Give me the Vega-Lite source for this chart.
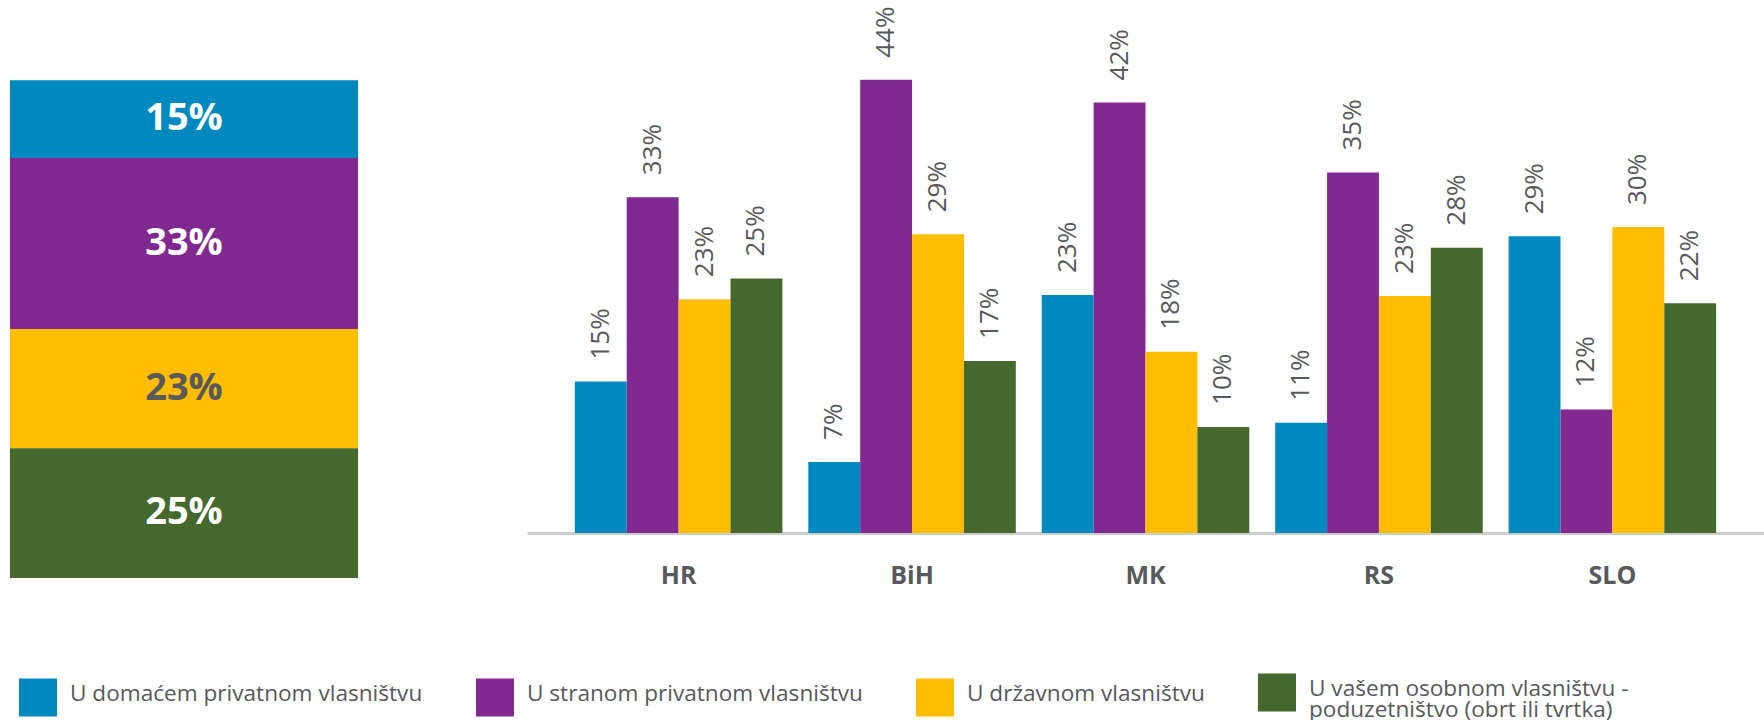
{
  "$schema": "https://vega.github.io/schema/vega-lite/v6.json",
  "background": "#ffffff",
  "padding": {"left": 10, "top": 6, "right": 0, "bottom": 0},
  "bounds": "flush",
  "spacing": 169,
  "config": {"view": {"stroke": null}, "font": "Open Sans"},
  "datasets": {
    "block": [
      {"country": "HR", "category": "U domaćem privatnom vlasništvu", "rank": 1, "share": 0.15},
      {"country": "HR", "category": "U stranom privatnom vlasništvu", "rank": 2, "share": 0.33},
      {"country": "HR", "category": "U državnom vlasništvu", "rank": 3, "share": 0.23},
      {"country": "HR", "category": "U vašem osobnom vlasništvu - poduzetništvo (obrt ili tvrtka)", "rank": 4, "share": 0.25}
    ],
    "ownership": [
      {"country": "HR", "category": "U domaćem privatnom vlasništvu", "value": 0.147},
      {"country": "HR", "category": "U stranom privatnom vlasništvu", "value": 0.326},
      {"country": "HR", "category": "U državnom vlasništvu", "value": 0.227},
      {"country": "HR", "category": "U vašem osobnom vlasništvu - poduzetništvo (obrt ili tvrtka)", "value": 0.247},
      {"country": "BiH", "category": "U domaćem privatnom vlasništvu", "value": 0.069},
      {"country": "BiH", "category": "U stranom privatnom vlasništvu", "value": 0.44},
      {"country": "BiH", "category": "U državnom vlasništvu", "value": 0.29},
      {"country": "BiH", "category": "U vašem osobnom vlasništvu - poduzetništvo (obrt ili tvrtka)", "value": 0.167},
      {"country": "MK", "category": "U domaćem privatnom vlasništvu", "value": 0.231},
      {"country": "MK", "category": "U stranom privatnom vlasništvu", "value": 0.418},
      {"country": "MK", "category": "U državnom vlasništvu", "value": 0.176},
      {"country": "MK", "category": "U vašem osobnom vlasništvu - poduzetništvo (obrt ili tvrtka)", "value": 0.103},
      {"country": "RS", "category": "U domaćem privatnom vlasništvu", "value": 0.107},
      {"country": "RS", "category": "U stranom privatnom vlasništvu", "value": 0.35},
      {"country": "RS", "category": "U državnom vlasništvu", "value": 0.23},
      {"country": "RS", "category": "U vašem osobnom vlasništvu - poduzetništvo (obrt ili tvrtka)", "value": 0.277},
      {"country": "SLO", "category": "U domaćem privatnom vlasništvu", "value": 0.288},
      {"country": "SLO", "category": "U stranom privatnom vlasništvu", "value": 0.12},
      {"country": "SLO", "category": "U državnom vlasništvu", "value": 0.297},
      {"country": "SLO", "category": "U vašem osobnom vlasništvu - poduzetništvo (obrt ili tvrtka)", "value": 0.223}
    ]
  },
  "resolve": {"scale": {"color": "independent", "x": "independent", "y": "independent"}},
  "hconcat": [
    {
      "width": 348,
      "height": 560,
      "data": {"name": "block"},
      "transform": [
        {"stack": "share", "groupby": ["country"], "sort": [{"field": "rank", "order": "descending"}], "as": ["v0", "v1"]}
      ],
      "layer": [
        {
          "mark": {"type": "bar"},
          "encoding": {
            "x": {"field": "country", "type": "nominal", "scale": {"paddingInner": 0, "paddingOuter": 0}, "axis": null},
            "y": {"field": "v0", "type": "quantitative", "scale": {"domain": [0, 1.08]}, "axis": null},
            "y2": {"field": "v1"},
            "color": {
              "field": "category", "type": "nominal",
              "scale": {
                "domain": ["U domaćem privatnom vlasništvu", "U stranom privatnom vlasništvu", "U državnom vlasništvu", "U vašem osobnom vlasništvu - poduzetništvo (obrt ili tvrtka)"],
                "range": ["#0089bf", "#812990", "#febd00", "#45682c"]
              },
              "legend": null
            }
          }
        },
        {
          "transform": [{"fold": ["v0", "v1"], "as": ["edge", "pos"]}],
          "mark": {"type": "text", "fontSize": 38, "fontWeight": "bold", "font": "Open Sans", "baseline": "middle", "align": "center"},
          "encoding": {
            "x": {"field": "country", "type": "nominal"},
            "y": {"aggregate": "mean", "field": "pos", "type": "quantitative", "scale": {"domain": [0, 1.08]}},
            "text": {"field": "share", "type": "quantitative", "format": ".0%"},
            "detail": {"field": "category"},
            "color": {"condition": {"test": "datum.category === 'U državnom vlasništvu'", "value": "#58595b"}, "value": "#ffffff"}
          }
        }
      ]
    },
    {
      "width": 1237,
      "height": 515,
      "data": {"name": "ownership"},
      "encoding": {
        "x": {
          "field": "country", "type": "nominal", "sort": ["HR", "BiH", "MK", "RS", "SLO"],
          "scale": {"paddingInner": 0.111, "paddingOuter": 0.205},
          "axis": {"title": null, "labelAngle": 0, "ticks": false, "tickSize": 0, "grid": false, "domainColor": "#cccccc", "domainWidth": 3, "labelFont": "Open Sans", "labelFontSize": 25, "labelFontWeight": "bold", "labelColor": "#58595b", "labelPadding": 30}
        },
        "xOffset": {
          "field": "category", "type": "nominal",
          "sort": ["U domaćem privatnom vlasništvu", "U stranom privatnom vlasništvu", "U državnom vlasništvu", "U vašem osobnom vlasništvu - poduzetništvo (obrt ili tvrtka)"],
          "scale": {"paddingInner": 0, "paddingOuter": 0}
        },
        "y": {"field": "value", "type": "quantitative", "scale": {"domain": [0, 0.5]}, "axis": null}
      },
      "layer": [
        {
          "mark": {"type": "bar"},
          "encoding": {
            "color": {
              "field": "category", "type": "nominal",
              "scale": {
                "domain": ["U domaćem privatnom vlasništvu", "U stranom privatnom vlasništvu", "U državnom vlasništvu", "U vašem osobnom vlasništvu - poduzetništvo (obrt ili tvrtka)"],
                "range": ["#0089bf", "#812990", "#febd00", "#45682c"]
              },
              "legend": {
                "title": null, "orient": "none", "legendX": -508, "legendY": 655, "direction": "horizontal", "columns": 4,
                "symbolType": "square", "symbolSize": 1444, "symbolStrokeWidth": 0, "symbolOpacity": 1,
                "labelFont": "Open Sans", "labelFontSize": 22.6, "labelColor": "#58595b", "labelOffset": 13, "labelLimit": 600,
                "columnPadding": 53,
                "labelExpr": "datum.label === 'U vašem osobnom vlasništvu - poduzetništvo (obrt ili tvrtka)' ? ['U vašem osobnom vlasništvu -', 'poduzetništvo (obrt ili tvrtka)'] : datum.label",
                "encode": {"labels": {"update": {"lineHeight": {"value": 21}, "dy": {"value": -3.5}}}}
              }
            }
          }
        },
        {
          "mark": {"type": "text", "angle": 270, "align": "left", "baseline": "middle", "dx": 22, "fontSize": 26, "font": "Open Sans", "color": "#58595b"},
          "encoding": {
            "text": {"field": "value", "type": "quantitative", "format": ".0%"}
          }
        }
      ]
    }
  ]
}
